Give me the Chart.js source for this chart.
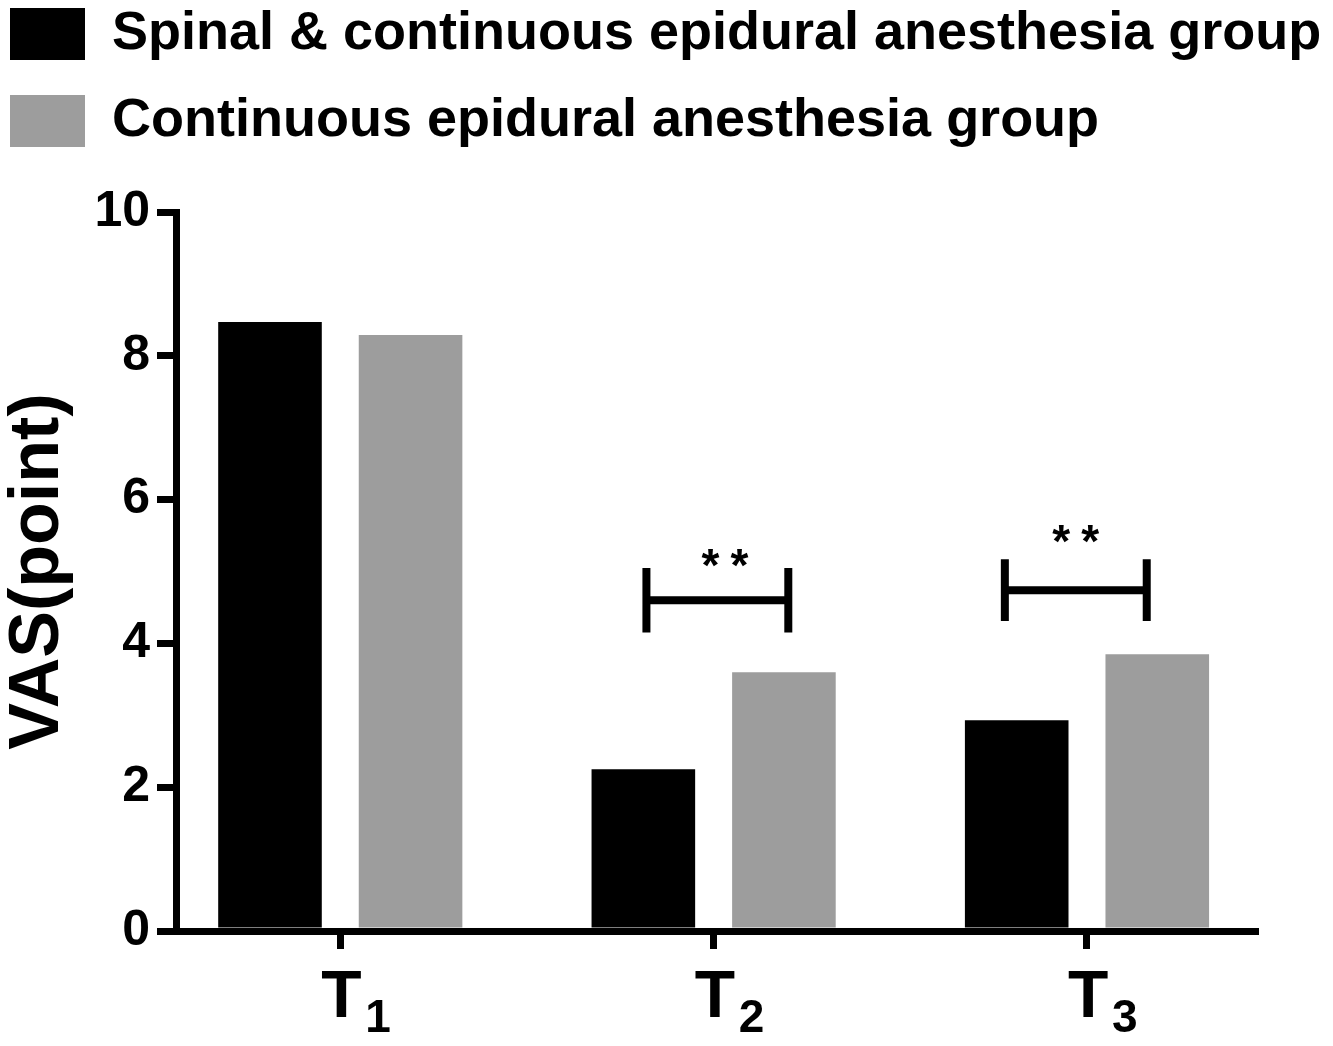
<!DOCTYPE html>
<html>
<head>
<meta charset="utf-8">
<script src="https://cdn.jsdelivr.net/npm/chart.js@4.4.1/dist/chart.umd.min.js"></script>
<style>
  html, body { margin: 0; padding: 0; background: #fff; }
  #wrap { width: 1333px; height: 1046px; position: relative; }
</style>
</head>
<body>
<div id="wrap"><canvas id="myChart"></canvas></div>
<script>
// tick labels: first letter normal, the rest is drawn as a subscript
var categories = ['T1', 'T2', 'T3'];
var spinalValues = [8.47, 2.25, 2.93];
var epiduralValues = [8.29, 3.60, 3.85];
var yTicks = [0, 2, 4, 6, 8, 10];

// significance brackets, x in category index units, y in VAS points
var sigLeft = [0.82, 1.78];
var sigRight = [1.2, 2.16];
var sigY = [4.6, 4.74];
var sigCap = [0.45, 0.43];
var sigStarX = [1.03, 1.97];
var sigStarY = [5.23, 5.56];
var sigText = ['**', '**'];

var FONT = '"Liberation Sans", Arial, sans-serif';
Chart.defaults.color = '#000';
Chart.defaults.font.family = FONT;

var sigPlugin = {
  id: 'sig',
  afterDatasetsDraw: function(chart) {
    var ctx = chart.ctx, xs = chart.scales.x, ys = chart.scales.y;
    ctx.save();
    ctx.strokeStyle = '#000';
    ctx.fillStyle = '#000';
    ctx.lineWidth = 8;
    for (var i = 0; i < sigLeft.length; i++) {
      var x1 = xs.getPixelForValue(sigLeft[i]);
      var x2 = xs.getPixelForValue(sigRight[i]);
      var y = ys.getPixelForValue(sigY[i]);
      var yt = ys.getPixelForValue(sigY[i] + sigCap[i]);
      var yb = ys.getPixelForValue(sigY[i] - sigCap[i]);
      ctx.beginPath();
      ctx.moveTo(x1, yt); ctx.lineTo(x1, yb);
      ctx.moveTo(x2, yt); ctx.lineTo(x2, yb);
      ctx.moveTo(x1, y); ctx.lineTo(x2, y);
      ctx.stroke();

      ctx.font = 'bold 46px ' + FONT;
      ctx.textAlign = 'center';
      ctx.textBaseline = 'alphabetic';
      var sx = xs.getPixelForValue(sigStarX[i]);
      var sy = ys.getPixelForValue(sigStarY[i]);
      var chars = sigText[i].split('');
      var step = 29;
      for (var k = 0; k < chars.length; k++) {
        ctx.fillText(chars[k], sx + (k - (chars.length - 1) / 2) * step, sy + 26);
      }
    }
    ctx.restore();
  }
};

// x tick labels with a real subscript (T + smaller, lowered digit)
var subLabels = {
  id: 'subLabels',
  afterDraw: function(chart) {
    var ctx = chart.ctx, xs = chart.scales.x;
    ctx.save();
    ctx.fillStyle = '#000';
    ctx.textAlign = 'left';
    ctx.textBaseline = 'alphabetic';
    xs.ticks.forEach(function(t) {
      var label = categories[t.value];
      var px = xs.getPixelForValue(t.value);
      ctx.font = 'bold 66px ' + FONT;
      ctx.fillText(label.charAt(0), px - 19, xs.top + 86);
      ctx.font = 'bold 46px ' + FONT;
      ctx.fillText(label.slice(1), px + 25, xs.top + 101);
    });
    ctx.restore();
  }
};

var ctx = document.getElementById('myChart').getContext('2d');
var myChart = new Chart(ctx, {
  type: 'bar',
  data: {
    datasets: [
      {
        label: 'Spinal & continuous epidural anesthesia group',
        data: spinalValues.map(function(v, i) { return {x: i, y: v}; }),
        xAxisID: 'x',
        yAxisID: 'y',
        backgroundColor: '#000000',
        borderWidth: 0
      },
      {
        label: 'Continuous epidural anesthesia group',
        data: epiduralValues.map(function(v, i) { return {x: i, y: v}; }),
        xAxisID: 'x',
        yAxisID: 'y',
        backgroundColor: '#9d9d9d',
        borderWidth: 0
      }
    ]
  },
  options: {
    responsive: true,
    maintainAspectRatio: false,
    animation: false,
    categoryPercentage: 0.753,
    barPercentage: 0.737,
    layout: { padding: { top: -26, left: -23, right: 0, bottom: 0 } },
    plugins: {
      tooltip: { enabled: false },
      legend: {
        position: 'top',
        align: 'start',
        labels: {
          boxWidth: 75,
          boxHeight: 52,
          padding: 33,
          color: '#000',
          font: { size: 54, weight: 'bold' }
        }
      }
    },
    scales: {
      x: {
        type: 'linear',
        offset: false,
        min: -0.44,
        max: 2.45,
        afterBuildTicks: function(s) {
          s.ticks = categories.map(function(c, i) { return {value: i}; });
        },
        afterFit: function(s) { s.height = 115; },
        border: { display: true, color: '#000', width: 7 },
        grid: { offset: false, drawOnChartArea: false, tickLength: 18, color: '#000', lineWidth: 7, tickWidth: 7 },
        ticks: { display: false }
      },
      y: {
        min: 0,
        max: 10,
        afterBuildTicks: function(s) {
          s.ticks = yTicks.map(function(v) { return {value: v}; });
        },
        afterFit: function(s) { s.width = 199; },
        border: { display: true, color: '#000', width: 7 },
        grid: { drawOnChartArea: false, tickLength: 19, color: '#000', lineWidth: 7, tickWidth: 7 },
        ticks: {
          padding: 7,
          color: '#000',
          font: { size: 50, weight: 'bold' }
        },
        title: {
          display: true,
          text: 'VAS(point)',
          color: '#000',
          font: { size: 70, weight: 'bold' },
          padding: { top: 20, bottom: 0 }
        }
      },
      // empty spacer axes so the plot area sits where it does in the figure
      xTop: {
        type: 'linear',
        position: 'top',
        display: true,
        grid: { display: false },
        border: { display: false },
        ticks: { display: false },
        afterFit: function(s) { s.height = 54; }
      },
      yRight: {
        type: 'linear',
        position: 'right',
        display: true,
        grid: { display: false },
        border: { display: false },
        ticks: { display: false },
        afterFit: function(s) { s.width = 78; }
      }
    }
  },
  plugins: [sigPlugin, subLabels]
});
</script>
</body>
</html>
